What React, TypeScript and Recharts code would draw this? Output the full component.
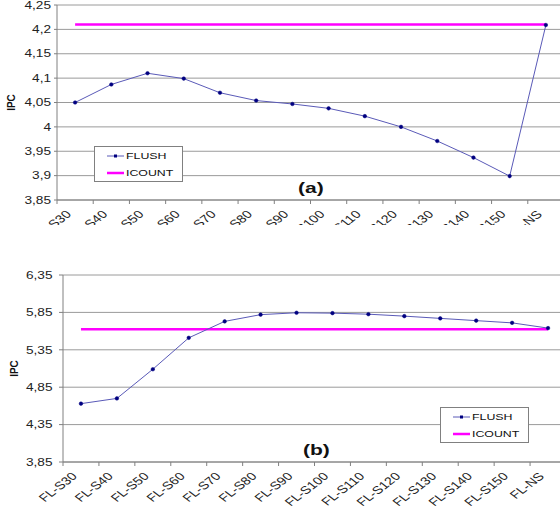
import React from "react";
import { LineChart, Line, XAxis, YAxis, CartesianGrid } from "recharts";

const categories = [
  "FL-S30", "FL-S40", "FL-S50", "FL-S60", "FL-S70", "FL-S80", "FL-S90",
  "FL-S100", "FL-S110", "FL-S120", "FL-S130", "FL-S140", "FL-S150", "FL-NS",
];

// chart (a)
const flushA = [4.05, 4.087, 4.11, 4.099, 4.07, 4.054, 4.047, 4.038, 4.022, 4.0, 3.971, 3.937, 3.899, 4.209];
const icountA = [4.21, 4.21, 4.21, 4.21, 4.21, 4.21, 4.21, 4.21, 4.21, 4.21, 4.21, 4.21, 4.21, 4.21];
const ticksA = [3.85, 3.9, 3.95, 4, 4.05, 4.1, 4.15, 4.2, 4.25];

// chart (b)
const flushB = [4.63, 4.7, 5.09, 5.51, 5.73, 5.82, 5.845, 5.84, 5.826, 5.8, 5.77, 5.74, 5.71, 5.64];
const icountB = [5.625, 5.625, 5.625, 5.625, 5.625, 5.625, 5.625, 5.625, 5.625, 5.625, 5.625, 5.625, 5.625, 5.625];
const ticksB = [3.85, 4.35, 4.85, 5.35, 5.85, 6.35];

const dataA = categories.map((cat, i) => ({ cat, flush: flushA[i], icount: icountA[i] }));
const dataB = categories.map((cat, i) => ({ cat, flush: flushB[i], icount: icountB[i] }));

const FONT = "'Liberation Sans', Arial, sans-serif";
const AXIS = "#808080";
const GRID = "#9a9a9a";
const FLUSH_LINE = "#5a5ab8";
const FLUSH_DOT = "#000080";
const MAGENTA = "#ff00ff";

const fmt = (v: number) => String(v).replace(".", ",");

const makeXTick = (band: number) => (props: any) => {
  const { x, y, payload } = props;
  return (
    <g>
      <line x1={x - band / 2} x2={x - band / 2} y1={y} y2={y + 4} stroke={AXIS} />
      <text
        transform={`translate(${x - 3},${y + 15}) scale(1.3,1) rotate(-45)`}
        textAnchor="end"
        fontSize={11}
        fontFamily={FONT}
        fill="#222"
      >
        {payload.value}
      </text>
    </g>
  );
};

const YTick = (props: any) => {
  const { x, y, payload } = props;
  return (
    <text
      transform={`translate(${x},${y + 3.7}) scale(1.3,1)`}
      textAnchor="end"
      fontSize={10.5}
      fontFamily={FONT}
      fill="#222"
    >
      {fmt(payload.value)}
    </text>
  );
};

const ipcLabel = (cx: number) => (props: any) => {
  const vb = props.viewBox || {};
  const cy = vb.y + vb.height / 2;
  return (
    <text
      transform={`translate(${cx},${cy}) rotate(-90)`}
      textAnchor="middle"
      fontSize={10}
      fontWeight="bold"
      fontFamily={FONT}
      fill="#111"
    >
      IPC
    </text>
  );
};

function LegendBox({ left, top }: { left: number; top: number }) {
  const text: React.CSSProperties = {
    fontSize: 9.5,
    fontFamily: FONT,
    color: "#111",
    transform: "scaleX(1.3)",
    transformOrigin: "left center",
    lineHeight: "18px",
    marginLeft: 2,
  };
  return (
    <div
      style={{
        position: "absolute",
        left,
        top,
        width: 89,
        height: 36,
        border: "1px solid #808080",
        background: "#fff",
        boxSizing: "border-box",
        paddingLeft: 12,
      }}
    >
      <div style={{ display: "flex", alignItems: "center", height: 17 }}>
        <svg width={17} height={6}>
          <line x1={0} x2={17} y1={3} y2={3} stroke={FLUSH_LINE} strokeWidth={1} />
          <rect x={7} y={1.5} width={3} height={3} fill={FLUSH_DOT} />
        </svg>
        <span style={text}>FLUSH</span>
      </div>
      <div style={{ display: "flex", alignItems: "center", height: 17 }}>
        <svg width={17} height={6}>
          <line x1={0} x2={17} y1={3} y2={3} stroke={MAGENTA} strokeWidth={2.5} />
        </svg>
        <span style={text}>ICOUNT</span>
      </div>
    </div>
  );
}

const Tag = ({ left, top, children }: { left: number; top: number; children: string }) => (
  <div
    style={{
      position: "absolute",
      left,
      top,
      fontSize: 14,
      fontWeight: "bold",
      fontFamily: FONT,
      color: "#111",
      transform: "scaleX(1.5)",
      transformOrigin: "left top",
      lineHeight: "14px",
    }}
  >
    {children}
  </div>
);

const dotStyle = { r: 1.8, fill: FLUSH_DOT, stroke: FLUSH_DOT, strokeWidth: 0.5 };

export default function App() {
  // plot widths (chart width minus y axis width and right margin) / 14 categories
  const bandA = (580 - 57 - 16) / categories.length;
  const bandB = (580 - 63 - 14) / categories.length;

  return (
    <div
      style={{
        position: "absolute",
        left: 0,
        top: 0,
        width: 560,
        height: 508,
        overflow: "hidden",
        background: "#fff",
      }}
    >
      <div style={{ position: "absolute", left: 0, top: 0, width: 560, height: 225, overflow: "hidden" }}>
        <LineChart width={580} height={225} data={dataA} margin={{ top: 5, right: 16, left: 0, bottom: 0 }}>
          <CartesianGrid horizontal vertical={false} stroke={GRID} />
          <XAxis
            dataKey="cat"
            scale="band"
            interval={0}
            height={25}
            tickSize={0}
            tickMargin={0}
            axisLine={{ stroke: AXIS }}
            tickLine={false}
            tick={makeXTick(bandA)}
          />
          <YAxis
            domain={[3.85, 4.25]}
            ticks={ticksA}
            interval={0}
            width={57}
            tickSize={3}
            tickMargin={3}
            axisLine={{ stroke: AXIS }}
            tickLine={{ stroke: AXIS }}
            tick={YTick}
            label={{ content: ipcLabel(15) }}
          />
          <Line dataKey="icount" stroke={MAGENTA} strokeWidth={2.5} dot={false} isAnimationActive={false} />
          <Line dataKey="flush" type="linear" stroke={FLUSH_LINE} strokeWidth={1} dot={dotStyle} isAnimationActive={false} />
        </LineChart>
      </div>

      <div style={{ position: "absolute", left: 0, top: 250, width: 560, height: 258, overflow: "hidden" }}>
        <LineChart width={580} height={258} data={dataB} margin={{ top: 25, right: 14, left: 0, bottom: 0 }}>
          <CartesianGrid horizontal vertical={false} stroke={GRID} />
          <XAxis
            dataKey="cat"
            scale="band"
            interval={0}
            height={46}
            tickSize={0}
            tickMargin={0}
            axisLine={{ stroke: AXIS }}
            tickLine={false}
            tick={makeXTick(bandB)}
          />
          <YAxis
            domain={[3.85, 6.35]}
            ticks={ticksB}
            interval={0}
            width={63}
            tickSize={4}
            tickMargin={6.5}
            axisLine={{ stroke: AXIS }}
            tickLine={{ stroke: AXIS }}
            tick={YTick}
            label={{ content: ipcLabel(18) }}
          />
          <Line dataKey="icount" stroke={MAGENTA} strokeWidth={2.5} dot={false} isAnimationActive={false} />
          <Line dataKey="flush" type="linear" stroke={FLUSH_LINE} strokeWidth={1} dot={dotStyle} isAnimationActive={false} />
        </LineChart>
      </div>

      <LegendBox left={94} top={146} />
      <LegendBox left={440} top={407} />
      <Tag left={298} top={181}>(a)</Tag>
      <Tag left={303} top={443}>(b)</Tag>
    </div>
  );
}
